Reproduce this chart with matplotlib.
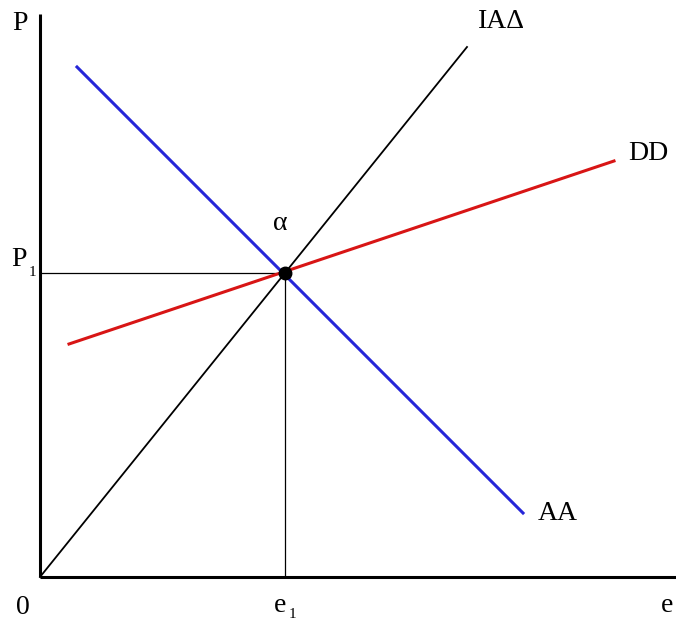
#!/usr/bin/env python3
"""AA-DD diagram with the IAΔ line through the equilibrium point a."""
import matplotlib
matplotlib.use("Agg")
import matplotlib.pyplot as plt

plt.rcParams.update({"font.family": ["Liberation Serif", "DejaVu Serif"]})

# Curve end points (x = e, y = P), arbitrary units from the origin.
iad_e = [0, 427]
iad_p = [0, 530]
aa_e = [37, 483]
aa_p = [510, 64]
dd_e = [29, 574]
dd_p = [233, 416]
# Equilibrium.
e1 = 245
p1 = 304
# Axis extents.
e_max = 636
p_max = 563


def main():
    fig = plt.figure(figsize=(6.76, 6.22), dpi=100)
    ax = fig.add_axes([0, 0, 1, 1])
    ax.set_xlim(-40, 636)
    ax.set_ylim(-45, 577)
    ax.axis("off")

    # axes
    ax.plot([0, 0], [0, p_max], color="black", lw=2.2, solid_capstyle="butt")
    ax.plot([0, e_max], [0, 0], color="black", lw=2.2, solid_capstyle="butt")

    # guide lines to the equilibrium
    ax.plot([0, e1], [p1, p1], color="black", lw=0.9)
    ax.plot([e1, e1], [0, p1], color="black", lw=0.9)

    ax.plot(iad_e, iad_p, color="black", lw=1.3)
    ax.plot(aa_e, aa_p, color="#2626d8", lw=2.2)
    ax.plot(dd_e, dd_p, color="#d81515", lw=2.2)
    ax.plot([e1], [p1], "o", color="black", ms=9)

    fs = 20
    ax.text(-20, 553, "P", fontsize=fs, ha="center", va="center")
    ax.text(-21, 318, "P", fontsize=fs, ha="center", va="center")
    ax.text(-8, 304, "1", fontsize=11, ha="center", va="center")
    ax.text(-17, -30, "0", fontsize=fs, ha="center", va="center")
    ax.text(240, -29, "e", fontsize=fs, ha="center", va="center")
    ax.text(252, -38, "1", fontsize=11, ha="center", va="center")
    ax.text(627, -29, "e", fontsize=fs, ha="center", va="center")
    ax.text(240, 354, "α", fontsize=fs, ha="center", va="center")
    ax.text(438, 555, "IAΔ", fontsize=fs, ha="left", va="center")
    ax.text(588, 424, "DD", fontsize=fs, ha="left", va="center")
    ax.text(498, 63, "AA", fontsize=fs, ha="left", va="center")

    fig.savefig("out.png", dpi=100)


if __name__ == "__main__":
    main()
